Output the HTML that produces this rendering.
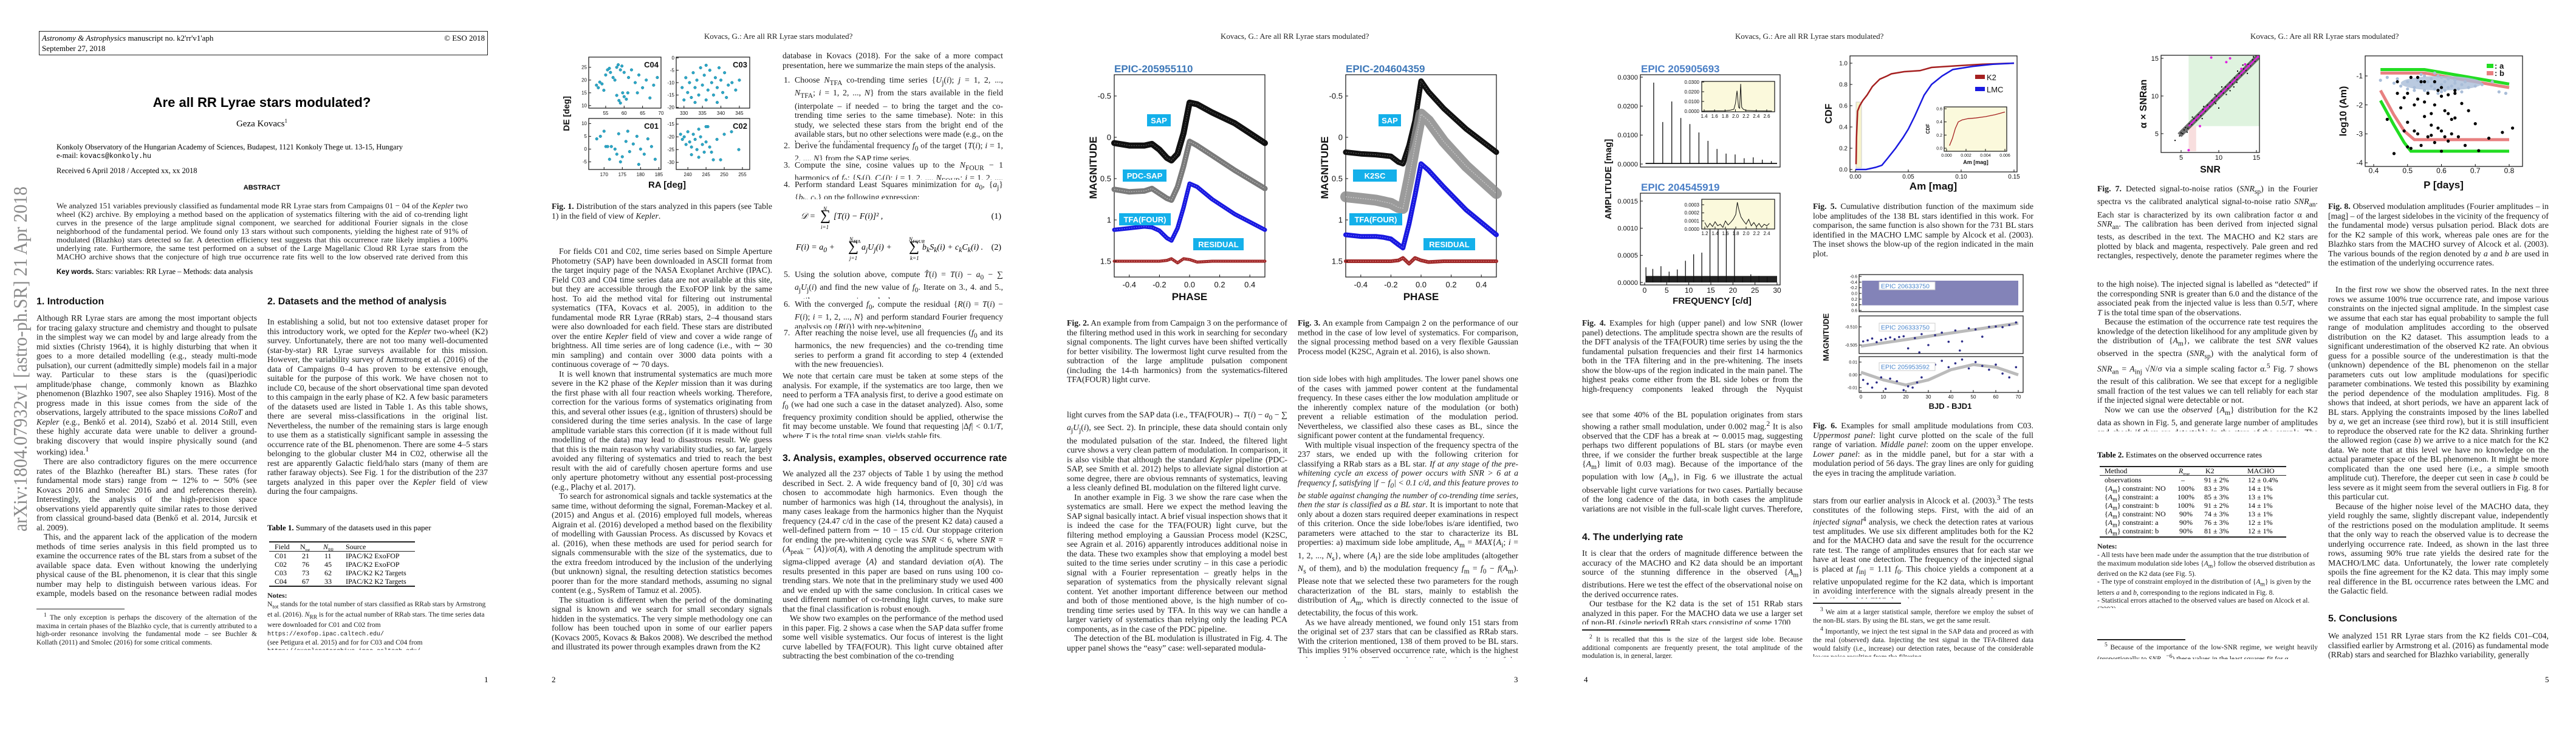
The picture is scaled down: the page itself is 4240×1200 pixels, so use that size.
<!DOCTYPE html>
<html lang="en"><head><meta charset="utf-8">
<style>
body{margin:0;width:4240px;height:1200px;background:#fff;position:relative;overflow:hidden}
.t{position:absolute;font-family:"Liberation Serif",serif;font-size:13.8px;line-height:15.5px;text-align:justify;color:#1a1a1a;overflow:hidden;width:363px;hyphens:auto}
.t p{margin:0;text-indent:12px}.t p.ni{text-indent:0}
.h{position:absolute;font:bold 16px "Liberation Sans",sans-serif;color:#111;white-space:nowrap}
.rh{position:absolute;top:52px;font:13px "Liberation Serif",serif;color:#222;white-space:nowrap}
.pn{position:absolute;top:1111px;font:13px "Liberation Serif",serif}
.fn{font-size:11.5px;line-height:13.8px}
.rule{position:absolute;height:1px;background:#222}
.cell{position:absolute;font:12px "Liberation Serif",serif;white-space:nowrap}
#figs{position:absolute;left:0;top:0}
#figs text{font-family:"Liberation Sans",sans-serif}
</style></head><body>

<!-- PAGE 1 -->
<div style="position:absolute;left:64px;top:51px;width:737px;height:38px;border:1px solid #222;font:13px 'Liberation Serif',serif;">
<div style="position:absolute;left:4px;top:3px"><i>Astronomy &amp; Astrophysics</i> manuscript no. k2'rr'v1'aph</div>
<div style="position:absolute;left:4px;top:20px">September 27, 2018</div>
<div style="position:absolute;right:4px;top:3px">© ESO 2018</div></div>
<div style="position:absolute;left:0;width:862px;top:156px;text-align:center;font:bold 22px 'Liberation Sans',sans-serif;">Are all RR Lyrae stars modulated?</div>
<div style="position:absolute;left:0;width:862px;top:194px;text-align:center;font:15px 'Liberation Serif',serif;">Geza Kovacs<sup style="font-size:9px">1</sup></div>
<div style="position:absolute;left:93px;top:235px;font:12.5px/14px 'Liberation Serif',serif;">Konkoly Observatory of the Hungarian Academy of Sciences, Budapest, 1121 Konkoly Thege ut. 13-15, Hungary<br>e-mail: <span style="font-family:'Liberation Mono',monospace;font-size:11.5px">kovacs@konkoly.hu</span></div>
<div style="position:absolute;left:93px;top:274px;font:12.5px 'Liberation Serif',serif;">Received 6 April 2018 / Accepted xx, xx 2018</div>
<div style="position:absolute;left:0;width:862px;top:303px;text-align:center;font:bold 11px 'Liberation Sans',sans-serif;">ABSTRACT</div>
<div class="t" style="left:93px;top:332px;width:677px;height:100px;font-size:13px;line-height:14px">We analyzed 151 variables previously classified as fundamental mode RR Lyrae stars from Campaigns 01 − 04 of the <i>Kepler</i> two wheel (K2) archive. By employing a method based on the application of systematics filtering with the aid of co-trending light curves in the presence of the large amplitude signal component, we searched for additional Fourier signals in the close neighborhood of the fundamental period. We found only 13 stars without such components, yielding the highest rate of 91% of modulated (Blazhko) stars detected so far. A detection efficiency test suggests that this occurrence rate likely implies a 100% underlying rate. Furthermore, the same test performed on a subset of the Large Magellanic Cloud RR Lyrae stars from the MACHO archive shows that the conjecture of high true occurrence rate fits well to the low observed rate derived from this database.</div>
<div style="position:absolute;left:93px;top:440px;font:12.5px 'Liberation Serif',serif;"><b style="font-family:'Liberation Sans',sans-serif;font-size:11.5px">Key words.</b> Stars: variables: RR Lyrae – Methods: data analysis</div>
<svg style="position:absolute;left:0;top:300px" width="56" height="580"><text x="0" y="0" transform="translate(44,575) rotate(-90)" font-family="Liberation Serif" font-size="32" fill="#8a8a8a" textLength="568" lengthAdjust="spacingAndGlyphs">arXiv:1804.07932v1  [astro-ph.SR]  21 Apr 2018</text></svg>
<div class="h" style="left:60px;top:488px">1. Introduction</div>
<div class="h" style="left:440px;top:488px">2. Datasets and the method of analysis</div>
<div class="t" style="left:60px;top:516px;height:468px"><p class="ni">Although RR Lyrae stars are among the most important objects for tracing galaxy structure and chemistry and thought to pulsate in the simplest way we can model by and large already from the mid sixties (Christy 1964), it is highly disturbing that when it goes to a more detailed modelling (e.g., steady multi-mode pulsation), our current (admittedly simple) models fail in a major way. Particular to these stars is the (quasi)periodic amplitude/phase change, commonly known as Blazhko phenomenon (Blazhko 1907, see also Shapley 1916). Most of the progress made in this issue comes from the side of the observations, largely attributed to the space missions <i>CoRoT</i> and <i>Kepler</i> (e.g., Benkő et al. 2014), Szabó et al. 2014 Still, even these highly accurate data were unable to deliver a ground-braking discovery that would inspire physically sound (and working) idea.<sup>1</sup></p><p>There are also contradictory figures on the mere occurrence rates of the Blazhko (hereafter BL) stars. These rates (for fundamental mode stars) range from ∼ 12% to ∼ 50% (see Kovacs 2016 and Smolec 2016 and and references therein). Interestingly, the analysis of the high-precision space observations yield apparently quite similar rates to those derived from classical ground-based data (Benkő et al. 2014, Jurcsik et al. 2009).</p><p>This, and the apparent lack of the application of the modern methods of time series analysis in this field prompted us to examine the occurrence rates of the BL stars from a subset of the available space data. Even without knowing the underlying physical cause of the BL phenomenon, it is clear that this single number may help to distinguish between various ideas. For example, models based on the resonance between radial modes will likely face difficulties if amplitude/phase modulation is indeed as common as the present study shows.</p></div>
<div class="rule" style="left:60px;top:1002px;width:145px"></div>
<div class="t fn" style="left:60px;top:1006px;height:72px"><p><sup>1</sup> The only exception is perhaps the discovery of the alternation of the maxima in certain phases of the Blazhko cycle, that is currently attributed to a high-order resonance involving the fundamental mode – see Buchler &amp; Kollath (2011) and Smolec (2016) for some critical comments.</p></div>
<div class="t" style="left:440px;top:522px;height:296px"><p class="ni">In establishing a solid, but not too extensive dataset proper for this introductory work, we opted for the <i>Kepler</i> two-wheel (K2) survey. Unfortunately, there are not too many well-documented (star-by-star) RR Lyrae surveys available for this mission. However, the variability survey of Armstrong et al. (2016) of the data of Campaigns 0–4 has proven to be extensive enough, suitable for the purpose of this work. We have chosen not to include C0, because of the short observational time span devoted to this campaign in the early phase of K2. A few basic parameters of the datasets used are listed in Table 1. As this table shows, there are several miss-classifications in the original list. Nevertheless, the number of the remaining stars is large enough to use them as a statistically significant sample in assessing the occurrence rate of the BL phenomenon. There are some 4–5 stars belonging to the globular cluster M4 in C02, otherwise all the rest are apparently Galactic field/halo stars (many of them are rather faraway objects). See Fig. 1 for the distribution of the 237 targets analyzed in this paper over the <i>Kepler</i> field of view during the four campaigns.</p></div>
<div style="position:absolute;left:440px;top:861px;font:13px 'Liberation Serif',serif"><b>Table 1.</b> Summary of the datasets used in this paper</div>
<div>
<div class="rule" style="left:443px;top:891px;width:240px;height:2px"></div>
<div class="cell" style="left:452px;top:893px">Field</div><div class="cell" style="left:494px;top:893px">N<sub style="font-size:7px">tot</sub></div><div class="cell" style="left:532px;top:893px"><i>N</i><sub style="font-size:7px">RR</sub></div><div class="cell" style="left:569px;top:893px">Source</div>
<div class="rule" style="left:443px;top:907px;width:240px"></div>
<div class="cell" style="left:452px;top:908px">C01</div><div class="cell" style="left:497px;top:908px">21</div><div class="cell" style="left:534px;top:908px">11</div><div class="cell" style="left:569px;top:908px">IPAC/K2 ExoFOP</div>
<div class="cell" style="left:452px;top:922px">C02</div><div class="cell" style="left:497px;top:922px">76</div><div class="cell" style="left:534px;top:922px">45</div><div class="cell" style="left:569px;top:922px">IPAC/K2 ExoFOP</div>
<div class="cell" style="left:452px;top:936px">C03</div><div class="cell" style="left:497px;top:936px">73</div><div class="cell" style="left:534px;top:936px">62</div><div class="cell" style="left:569px;top:936px">IPAC/K2 K2 Targets</div>
<div class="cell" style="left:452px;top:950px">C04</div><div class="cell" style="left:497px;top:950px">67</div><div class="cell" style="left:534px;top:950px">33</div><div class="cell" style="left:569px;top:950px">IPAC/K2 K2 Targets</div>
<div class="rule" style="left:443px;top:964px;width:240px;height:2px"></div></div>
<div class="t fn" style="left:440px;top:974px;height:96px;text-align:left"><b style="font-size:12px">Notes:</b><br>N<sub>tot</sub> stands for the total number of stars classified as RRab stars by Armstrong et al. (2016). <i>N</i><sub>RR</sub> is for the actual number of RRab stars. The time series data were downloaded for C01 and C02 from<br><span style="font-family:'Liberation Mono',monospace;font-size:10px">https://exofop.ipac.caltech.edu/</span><br>(see Petigura et al. 2015) and for for C03 and C04 from<br><span style="font-family:'Liberation Mono',monospace;font-size:10px">https://exoplanetarchive.ipac.caltech.edu/</span></div>
<div class="pn" style="left:797px">1</div>

<!-- PAGE 2 -->
<div class="rh" style="left:1159px">Kovacs, G.: Are all RR Lyrae stars modulated?</div>
<div class="t" style="left:908px;top:332px;height:32px"><p class="ni"><b>Fig. 1.</b> Distribution of the stars analyzed in this papers (see Table 1) in the field of view of <i>Kepler</i>.</p></div>
<div class="t" style="left:908px;top:406px;height:698px"><p>For fields C01 and C02, time series based on Simple Aperture Photometry (SAP) have been downloaded in ASCII format from the target inquiry page of the NASA Exoplanet Archive (IPAC). Field C03 and C04 time series data are not available at this site, but they are accessible through the ExoFOP link by the same host. To aid the method vital for filtering out instrumental systematics (TFA, Kovacs et al. 2005), in addition to the fundamental mode RR Lyrae (RRab) stars, 2–4 thousand stars were also downloaded for each field. These stars are distributed over the entire <i>Kepler</i> field of view and cover a wide range of brightness. All time series are of long cadence (i.e., with ∼ 30 min sampling) and contain over 3000 data points with a continuous coverage of ∼ 70 days.</p><p>It is well known that instrumental systematics are much more severe in the K2 phase of the <i>Kepler</i> mission than it was during the first phase with all four reaction wheels working. Therefore, correction for the various forms of systematics originating from this, and several other issues (e.g., ignition of thrusters) should be considered during the time series analysis. In the case of large amplitude variable stars this correction (if it is made without full modelling of the data) may lead to disastrous result. We guess that this is the main reason why variability studies, so far, largely avoided any filtering of systematics and tried to reach the best result with the aid of carefully chosen aperture forms and use only aperture photometry without any essential post-processing (e.g., Plachy et al. 2017).</p><p>To search for astronomical signals and tackle systematics at the same time, without deforming the signal, Foreman-Mackey et al. (2015) and Angus et al. (2016) employed full models, whereas Aigrain et al. (2016) developed a method based on the flexibility of modelling with Gaussian Process. As discussed by Kovacs et al. (2016), when these methods are used for period search for signals commensurable with the size of the systematics, due to the extra freedom introduced by the inclusion of the underlying (but unknown) signal, the resulting detection statistics becomes poorer than for the more standard methods, assuming no signal content (e.g., SysRem of Tamuz et al. 2005).</p><p>The situation is different when the period of the dominating signal is known and we search for small secondary signals hidden in the systematics. The very simple methodology one can follow has been touched upon in some of our earlier papers (Kovacs 2005, Kovacs &amp; Bakos 2008). We described the method and illustrated its power through examples drawn from the K2</p></div>
<div class="t" style="left:1288px;top:84px;height:32px"><p class="ni">database in Kovacs (2018). For the sake of a more compact presentation, here we summarize the main steps of the analysis.</p></div>
<div>
<div class="t" style="left:1288px;top:124px;height:110px;padding-left:20px;width:343px"><span style="position:absolute;left:2px">1.</span>Choose <i>N</i><sub>TFA</sub> co-trending time series {<i>U</i><sub>j</sub>(<i>i</i>); <i>j</i> = 1, 2, ..., <i>N</i><sub>TFA</sub>; <i>i</i> = 1, 2, ..., <i>N</i>} from the stars available in the field (interpolate – if needed – to bring the target and the co-trending time series to the same timebase). Note: in this study, we selected these stars from the bright end of the available stars, but no other selections were made (e.g., on the basis of variability).</div>
<div class="t" style="left:1288px;top:232px;height:32px;padding-left:20px;width:343px"><span style="position:absolute;left:2px">2.</span>Derive the fundamental frequency <i>f</i><sub>0</sub> of the target {<i>T</i>(<i>i</i>); <i>i</i> = 1, 2, ..., <i>N</i>} from the SAP time series.</div>
<div class="t" style="left:1288px;top:264px;height:32px;padding-left:20px;width:343px"><span style="position:absolute;left:2px">3.</span>Compute the sine, cosine values up to the <i>N</i><sub>FOUR</sub> − 1 harmonics of <i>f</i><sub>0</sub>: {<i>S</i><sub>j</sub>(<i>i</i>), <i>C</i><sub>j</sub>(<i>i</i>); <i>j</i> = 1, 2, ..., <i>N</i><sub>FOUR</sub>; <i>i</i> = 1, 2, ..., <i>N</i>}</div>
<div class="t" style="left:1288px;top:296px;height:32px;padding-left:20px;width:343px"><span style="position:absolute;left:2px">4.</span>Perform standard Least Squares minimization for <i>a</i><sub>0</sub>, {<i>a</i><sub>j</sub>} {<i>b</i><sub>k</sub>, <i>c</i><sub>k</sub>} on the following expression:</div></div>
<div style="position:absolute;left:1310px;top:336px;width:340px;height:44px;font:italic 14px 'Liberation Serif',serif">
<span style="position:absolute;left:8px;top:13px">𝒟 =</span><span style="position:absolute;left:45px;top:3px;font-size:9px">N</span><span style="position:absolute;left:40px;top:6px;font-size:24px;font-style:normal">∑</span><span style="position:absolute;left:41px;top:33px;font-size:9px">i=1</span><span style="position:absolute;left:62px;top:13px">[T(i) − F(i)]² ,</span><span style="position:absolute;right:2px;top:13px;font-style:normal">(1)</span></div>
<div style="position:absolute;left:1310px;top:387px;width:340px;height:44px;font:italic 14px 'Liberation Serif',serif">
<span style="position:absolute;left:0;top:13px">F(i) = a<sub>0</sub> +</span><span style="position:absolute;left:88px;top:2px;font-size:9px">N<sub>TFA</sub></span><span style="position:absolute;left:86px;top:6px;font-size:24px;font-style:normal">∑</span><span style="position:absolute;left:88px;top:33px;font-size:9px">j=1</span><span style="position:absolute;left:108px;top:13px">a<sub>j</sub>U<sub>j</sub>(i) +</span><span style="position:absolute;left:186px;top:2px;font-size:9px">N<sub>FOUR</sub></span><span style="position:absolute;left:186px;top:6px;font-size:24px;font-style:normal">∑</span><span style="position:absolute;left:188px;top:33px;font-size:9px">k=1</span><span style="position:absolute;left:208px;top:13px">b<sub>k</sub>S<sub>k</sub>(i) + c<sub>k</sub>C<sub>k</sub>(i) .</span><span style="position:absolute;right:2px;top:13px;font-style:normal">(2)</span></div>
<div>
<div class="t" style="left:1288px;top:444px;height:48px;padding-left:20px;width:343px"><span style="position:absolute;left:2px">5.</span>Using the solution above, compute <i>T̂</i>(<i>i</i>) = <i>T</i>(<i>i</i>) − <i>a</i><sub>0</sub> − ∑ <i>a</i><sub>j</sub><i>U</i><sub>j</sub>(<i>i</i>) and find the new value of <i>f</i><sub>0</sub>. Iterate on 3., 4. and 5., until convergence is reached.</div>
<div class="t" style="left:1288px;top:493px;height:48px;padding-left:20px;width:343px"><span style="position:absolute;left:2px">6.</span>With the converged <i>f</i><sub>0</sub>, compute the residual {<i>R</i>(<i>i</i>) = <i>T</i>(<i>i</i>) − <i>F</i>(<i>i</i>); <i>i</i> = 1, 2, ..., <i>N</i>} and perform standard Fourier frequency analysis on {<i>R</i>(<i>i</i>)} with pre-whitening.</div>
<div class="t" style="left:1288px;top:540px;height:64px;padding-left:20px;width:343px"><span style="position:absolute;left:2px">7.</span>After reaching the noise level, use all frequencies (<i>f</i><sub>0</sub> and its harmonics, the new frequencies) and the co-trending time series to perform a grand fit according to step 4 (extended with the new frequencies).</div></div>
<div class="t" style="left:1288px;top:611px;height:110px"><p class="ni">We note that certain care must be taken at some steps of the analysis. For example, if the systematics are too large, then we need to perform a TFA analysis first, to derive a good estimate on <i>f</i><sub>0</sub> (we had one such a case in the dataset analyzed). Also, some frequency proximity condition should be applied, otherwise the fit may become unstable. We found that requesting |Δ<i>f</i>| &lt; 0.1/<i>T</i>, where <i>T</i> is the total time span, yields stable fits.</p></div>
<div class="h" style="left:1288px;top:746px">3. Analysis, examples, observed occurrence rate</div>
<div class="t" style="left:1288px;top:772px;height:342px"><p class="ni">We analyzed all the 237 objects of Table 1 by using the method described in Sect. 2. A wide frequency band of [0, 30] c/d was chosen to accommodate high harmonics. Even though the number of harmonics was high (14, throughout the analysis), in many cases leakage from the harmonics higher than the Nyquist frequency (24.47 c/d in the case of the present K2 data) caused a well-defined pattern from ∼ 10 − 15 c/d. Our stoppage criterion for ending the pre-whitening cycle was <i>SNR</i> &lt; 6, where <i>SNR</i> = (<i>A</i><sub>peak</sub> − ⟨<i>A</i>⟩)/σ(<i>A</i>), with <i>A</i> denoting the amplitude spectrum with sigma-clipped average ⟨<i>A</i>⟩ and standard deviation σ(<i>A</i>). The results presented in this paper are based on runs using 100 co-trending stars. We note that in the preliminary study we used 400 and we ended up with the same conclusion. In critical cases we used different number of co-trending light curves, to make sure that the final classification is robust enough.</p><p>We show two examples on the performance of the method used in this paper. Fig. 2 shows a case when the SAP data suffer frome some well visible systematics. Our focus of interest is the light curve labelled by TFA(FOUR). This light curve obtained after subtracting the best combination of the co-trending</p></div>
<div class="pn" style="left:908px">2</div>

<!-- PAGE 3 -->
<div class="rh" style="left:2009px">Kovacs, G.: Are all RR Lyrae stars modulated?</div>
<div class="t" style="left:1756px;top:524px;height:110px"><p class="ni"><b>Fig. 2.</b> An example from from Campaign 3 on the performance of the filtering method used in this work in searching for secondary signal components. The light curves have been shifted vertically for better visibility. The lowermost light curve resulted from the subtraction of the large amplitude pulsation component (including the 14-th harmonics) from the systematics-filtered TFA(FOUR) light curve.</p></div>
<div class="t" style="left:1756px;top:675px;height:435px"><p class="ni">light curves from the SAP data (i.e., TFA(FOUR)→ <i>T</i>(<i>i</i>) − <i>a</i><sub>0</sub> − ∑ <i>a</i><sub>j</sub><i>U</i><sub>j</sub>(<i>i</i>), see Sect. 2). In principle, these data should contain only the modulated pulsation of the star. Indeed, the filtered light curve shows a very clean pattern of modulation. In comparison, it is also visible that although the standard <i>Kepler</i> pipeline (PDC-SAP, see Smith et al. 2012) helps to alleviate signal distortion at some degree, there are obvious remnants of systematics, leaving a less cleanly defined BL modulation on the filtered light curve.</p><p>In another example in Fig. 3 we show the rare case when the systematics are small. Here we expect the method leaving the SAP signal basically intact. A brief visual inspection shows that it is indeed the case for the TFA(FOUR) light curve, but the filtering method employing a Gaussian Process model (K2SC, see Agrain et al. 2016) apparently introduces additional noise in the data. These two examples show that employing a model best suited to the time series under scrutiny – in this case a periodic signal with a Fourier representation – greatly helps in the separation of systematics from the physically relevant signal content. Yet another important difference between our method and both of those mentioned above, is the high number of co-trending time series used by TFA. In this way we can handle a larger variety of systematics than relying only the leading PCA components, as in the case of the PDC pipeline.</p><p>The detection of the BL modulation is illustrated in Fig. 4. The upper panel shows the “easy” case: well-separated modula-</p></div>
<div class="t" style="left:2136px;top:524px;height:64px"><p class="ni"><b>Fig. 3.</b> An example from Campaign 2 on the performance of our method in the case of low level of systematics. For comparison, the signal processing method based on a very flexible Gaussian Process model (K2SC, Agrain et al. 2016), is also shown.</p></div>
<div class="t" style="left:2136px;top:616px;height:467px"><p class="ni">tion side lobes with high amplitudes. The lower panel shows one of the cases with jammed power content at the fundamental frequency. In these cases either the low modulation amplitude or the inherently complex nature of the modulation (or both) prevent a reliable estimation of the modulation period. Nevertheless, we classified also these cases as BL, since the significant power content at the fundamental frequency.</p><p>With multiple visual inspection of the frequency spectra of the 237 stars, we ended up with the following criterion for classifying a RRab stars as a BL star. <i>If at any stage of the pre-whitening cycle an excess of power occurs with SNR &gt; 6 at a frequency f, satisfying |f − f<sub>0</sub>| &lt; 0.1 c/d, and this feature proves to be stable against changing the number of co-trending time series, then the star is classified as a BL star</i>. It is important to note that only about a dozen stars required deeper examinations in respect of this criterion. Once the side lobe/lobes is/are identified, two parameters were attached to the star to characterize its BL properties: a) maximum side lobe amplitude, <i>A</i><sub>m</sub> = <i>MAX</i>{<i>A</i><sub>i</sub>; <i>i</i> = 1, 2, ..., <i>N</i><sub>s</sub>}, where {<i>A</i><sub>i</sub>} are the side lobe amplitudes (altogether <i>N</i><sub>s</sub> of them), and b) the modulation frequency <i>f</i><sub>m</sub> = <i>f</i><sub>0</sub> − <i>f</i>(<i>A</i><sub>m</sub>). Please note that we selected these two parameters for the rough characterization of the BL stars, mainly to establish the distribution of <i>A</i><sub>m</sub>, which is directly connected to the issue of detectability, the focus of this work.</p><p>As we have already mentioned, we found only 151 stars from the original set of 237 stars that can be classified as RRab stars. With the criterion mentioned, 138 of them proved to be BL stars. This implies 91% observed occurrence rate, which is the highest value reported so far. The cumulative distribution function of the observed maximum side lobe amplitudes is shown in Fig. 5. We</p></div>
<div class="pn" style="left:2492px">3</div>

<!-- PAGE 4 -->
<div class="rh" style="left:2856px">Kovacs, G.: Are all RR Lyrae stars modulated?</div>
<div class="t" style="left:2604px;top:524px;height:126px"><p class="ni"><b>Fig. 4.</b> Examples for high (upper panel) and low SNR (lower panel) detections. The amplitude spectra shown are the results of the DFT analysis of the TFA(FOUR) time series by using the the fundamental pulsation frequencies and their first 14 harmonics both in the TFA filtering and in the pre-whitening. The insets show the blow-ups of the region indicated in the main panel. The highest peaks come either from the BL side lobes or from the high-frequency components leaked through the Nyquist frequency at ∼ 24.47 c/d.</p></div>
<div class="t" style="left:2604px;top:675px;height:172px"><p class="ni">see that some 40% of the BL population originates from stars showing a rather small modulation, under 0.002 mag.<sup>2</sup> It is also observed that the CDF has a break at ∼ 0.0015 mag, suggesting perhaps two different populations of BL stars (or maybe even three, if we consider the further break suspectible at the large {<i>A</i><sub>m</sub>} limit of 0.03 mag). Because of the importance of the population with low {<i>A</i><sub>m</sub>}, in Fig. 6 we illustrate the actual observable light curve variations for two cases. Partially because of the long cadence of the data, in both cases the amplitude variations are not visible in the full-scale light curves. Therefore, we zoomed to the upper envelopes in the middle and lower panels.</p></div>
<div class="h" style="left:2604px;top:876px">4. The underlying rate</div>
<div class="t" style="left:2604px;top:903px;height:125px"><p class="ni">It is clear that the orders of magnitude difference between the accuracy of the MACHO and K2 data should be an important source of the stunning difference in the observed {<i>A</i><sub>m</sub>} distributions. Here we test the effect of the observational noise on the derived occurrence rates.</p><p>Our testbase for the K2 data is the set of 151 RRab stars analyzed in this paper. For the MACHO data we use a larger set of non-BL (single period) RRab stars consisting of some 1700</p></div>
<div class="rule" style="left:2604px;top:1036px;width:145px;height:2px"></div>
<div class="t fn" style="left:2604px;top:1042px;height:42px"><p><sup>2</sup> It is recalled that this is the size of the largest side lobe. Because additional components are frequently present, the total amplitude of the modulation is, in general, larger.</p></div>
<div class="t" style="left:2984px;top:332px;height:95px"><p class="ni"><b>Fig. 5.</b> Cumulative distribution function of the maximum side lobe amplitudes of the 138 BL stars identified in this work. For comparison, the same function is also shown for the 731 BL stars identified in the MACHO LMC sample by Alcock et al. (2003). The inset shows the blow-up of the region indicated in the main plot.</p></div>
<div class="t" style="left:2984px;top:693px;height:95px"><p class="ni"><b>Fig. 6.</b> Examples for small amplitude modulations from C03. <i>Uppermost panel</i>: light curve plotted on the scale of the full range of variation. <i>Middle panel</i>: zoom on the upper envelope. <i>Lower panel</i>: as in the middle panel, but for a star with a modulation period of 56 days. The gray lines are only for guiding the eyes in tracing the amplitude variation.</p></div>
<div class="t" style="left:2984px;top:813px;height:172px"><p class="ni">stars from our earlier analysis in Alcock et al. (2003).<sup>3</sup> The tests constitutes of the following steps. First, with the aid of an <i>injected signal</i><sup>4</sup> analysis, we check the detection rates at various test amplitudes. We use six different amplitudes both for the K2 and for the MACHO data and save the result for the occurrence rate test. The range of amplitudes ensures that for each star we have at least one detection. The frequency of the injected signal is placed at <i>f</i><sub>inj</sub> = 1.11 <i>f</i><sub>0</sub>. This choice yields a component at a relative unpopulated regime for the K2 data, which is important in avoiding interference with the signals already present in the data (for the MACHO data this is less of a problem, due</p></div>
<div class="rule" style="left:2984px;top:992px;width:145px;height:2px"></div>
<div class="t fn" style="left:2984px;top:997px;height:84px"><p><sup>3</sup> We aim at a larger statistical sample, therefore we employ the subset of the non-BL stars. By using the BL stars, we get the same result.</p><p><sup>4</sup> Importantly, we inject the test signal in the SAP data and proceed as with the real (observed) data. Injecting the test signal in the TFA-filtered data would falsify (i.e., increase) our detection rates, because of the considerable lower noise resulting from the filtering.</p></div>
<div class="pn" style="left:2607px">4</div>

<!-- PAGE 5 -->
<div class="rh" style="left:3704px">Kovacs, G.: Are all RR Lyrae stars modulated?</div>
<div class="t" style="left:3452px;top:303px;height:126px"><p class="ni"><b>Fig. 7.</b> Detected signal-to-noise ratios (<i>SNR</i><sub>sp</sub>) in the Fourier spectra vs the calibrated analytical signal-to-noise ratio <i>SNR</i><sub>an</sub>. Each star is characterized by its own calibration factor α and <i>SNR</i><sub>an</sub>. The calibration has been derived from injected signal tests, as described in the text. The MACHO and K2 stars are plotted by black and magenta, respectively. Pale green and red rectangles, respectively, denote the parameter regimes where the two SNR estimates yield consistent/inconsistent detection result.</p></div>
<div class="t" style="left:3452px;top:460px;height:250px"><p class="ni">to the high noise). The injected signal is labelled as “detected” if the corresponding SNR is greater than 6.0 and the distance of the associated peak from the injected value is less than 0.5/<i>T</i>, where <i>T</i> is the total time span of the observations.</p><p>Because the estimation of the occurrence rate test requires the knowledge of the detection likelihood for any amplitude given by the distribution of {<i>A</i><sub>m</sub>}, we calibrate the test <i>SNR</i> values observed in the spectra (<i>SNR</i><sub>sp</sub>) with the analytical form of <i>SNR</i><sub>an</sub> = <i>A</i><sub>inj</sub> √<i>N</i>/σ via a simple scaling factor α.<sup>5</sup> Fig. 7 shows the result of this calibration. We see that except for a negligible small fraction of the test values we can tell reliably for each star if the injected signal were detectable or not.</p><p>Now we can use the <i>observed</i> {<i>A</i><sub>m</sub>} distribution for the K2 data as shown in Fig. 5, and generate large number of amplitudes and check if they are detectable in the stars of the sample. The results are summarized in Table 2.</p></div>
<div style="position:absolute;left:3452px;top:741px;font:13px 'Liberation Serif',serif"><b>Table 2.</b> Estimates on the observed occurrence rates</div>
<div>
<div class="rule" style="left:3456px;top:767px;width:307px;height:2px"></div>
<div class="cell" style="left:3464px;top:768px">Method</div><div class="cell" style="left:3586px;top:768px"><i>R</i><sub style="font-size:7px">true</sub></div><div class="cell" style="left:3630px;top:768px">K2</div><div class="cell" style="left:3699px;top:768px">MACHO</div>
<div class="rule" style="left:3456px;top:782px;width:307px"></div>
<div class="cell" style="left:3464px;top:783px">observations</div><div class="cell" style="left:3590px;top:783px">–</div><div class="cell" style="left:3628px;top:783px">91 ± 2%</div><div class="cell" style="left:3700px;top:783px">12 ± 0.4%</div>
<div class="cell" style="left:3464px;top:797px">{<i>A</i><sub>m</sub>} constraint: NO</div><div class="cell" style="left:3584px;top:797px">100%</div><div class="cell" style="left:3628px;top:797px">83 ± 3%</div><div class="cell" style="left:3700px;top:797px">14 ± 1%</div>
<div class="cell" style="left:3464px;top:811px">{<i>A</i><sub>m</sub>} constraint: a</div><div class="cell" style="left:3584px;top:811px">100%</div><div class="cell" style="left:3628px;top:811px">85 ± 3%</div><div class="cell" style="left:3700px;top:811px">13 ± 1%</div>
<div class="cell" style="left:3464px;top:825px">{<i>A</i><sub>m</sub>} constraint: b</div><div class="cell" style="left:3584px;top:825px">100%</div><div class="cell" style="left:3628px;top:825px">91 ± 2%</div><div class="cell" style="left:3700px;top:825px">14 ± 1%</div>
<div class="cell" style="left:3464px;top:839px">{<i>A</i><sub>m</sub>} constraint: NO</div><div class="cell" style="left:3587px;top:839px">90%</div><div class="cell" style="left:3628px;top:839px">74 ± 3%</div><div class="cell" style="left:3700px;top:839px">13 ± 1%</div>
<div class="cell" style="left:3464px;top:853px">{<i>A</i><sub>m</sub>} constraint: a</div><div class="cell" style="left:3587px;top:853px">90%</div><div class="cell" style="left:3628px;top:853px">76 ± 3%</div><div class="cell" style="left:3700px;top:853px">12 ± 1%</div>
<div class="cell" style="left:3464px;top:867px">{<i>A</i><sub>m</sub>} constraint: b</div><div class="cell" style="left:3587px;top:867px">90%</div><div class="cell" style="left:3628px;top:867px">81 ± 3%</div><div class="cell" style="left:3700px;top:867px">12 ± 1%</div>
<div class="rule" style="left:3456px;top:883px;width:307px;height:2px"></div></div>
<div class="t fn" style="left:3452px;top:893px;height:108px;text-align:left"><b style="font-size:12px">Notes:</b><br>- All tests have been made under the assumption that the true distribution of the maximum modulation side lobes {<i>A</i><sub>m</sub>} follow the observed distribution as derived on the K2 data (see Fig. 5).<br>- The type of constraint employed in the distribution of {<i>A</i><sub>m</sub>} is given by the letters <i>a</i> and <i>b</i>, corresponding to the regions indicated in Fig. 8.<br>- Statistical errors attached to the observed values are based on Alcock et al. (2003).</div>
<div class="rule" style="left:3452px;top:1052px;width:145px;height:2px"></div>
<div class="t fn" style="left:3452px;top:1055px;height:30px"><p><sup>5</sup> Because of the importance of the low-SNR regime, we weight heavily (proportionally to <i>SNR</i><sub>sp</sub><sup>−6</sup>) these values in the least squares fit for α.</p></div>
<div class="t" style="left:3832px;top:332px;height:110px"><p class="ni"><b>Fig. 8.</b> Observed modulation amplitudes (Fourier amplitudes – in [mag] – of the largest sidelobes in the vicinity of the frequency of the fundamental mode) versus pulsation period. Black dots are for the K2 sample of this work, whereas pale ones are for the Blazhko stars from the MACHO survey of Alcock et al. (2003). The various bounds of the region denoted by <i>a</i> and <i>b</i> are used in the estimation of the underlying occurrence rates.</p></div>
<div class="t" style="left:3832px;top:469px;height:514px"><p>In the first row we show the observed rates. In the next three rows we assume 100% true occurrence rate, and impose various constraints on the injected signal amplitude. In the simplest case we assume that each star has equal probability to sample the full range of modulation amplitudes according to the observed distribution on the K2 dataset. This assumption leads to a significant underestimation of the observed K2 rate. An obvious guess for a possible source of the underestimation is that the (unknown) dependence of the BL phenomenon on the stellar parameters cuts out low amplitude modulations for specific parameter combinations. We tested this possibility by examining the period dependence of the modulation amplitudes. Fig. 8 shows that indeed, at short periods, we have an apparent lack of BL stars. Applying the constraints imposed by the lines labelled by <i>a</i>, we get an increase (see third row), but it is still insufficient to reproduce the observed rate for the K2 data. Shrinking further the allowed region (case <i>b</i>) we arrive to a nice match for the K2 data. We note that at this level we have no knowledge on the actual parameter space of the BL phenomenon. It might be more complicated than the one used here (i.e., a simple smooth amplitude cut). Therefore, the deeper cut seen in case <i>b</i> could be less severe as it might seem from the several outliers in Fig. 8 for this particular cut.</p><p>Because of the higher noise level of the MACHO data, they yield roughly the same, slightly discrepant value, independently of the restrictions posed on the modulation amplitude. It seems that the only way to reach the observed value is to decrease the underlying occurrence rate. Indeed, as shown in the last three rows, assuming 90% true rate yields the desired rate for the MACHO/LMC data. Unfortunately, the lower rate completely spoils the fine agreement for the K2 data. This may imply some real difference in the BL occurrence rates between the LMC and the Galactic field.</p></div>
<div class="h" style="left:3832px;top:1010px">5. Conclusions</div>
<div class="t" style="left:3832px;top:1039px;height:47px"><p class="ni">We analyzed 151 RR Lyrae stars from the K2 fields C01–C04, classified earlier by Armstrong et al. (2016) as fundamental mode (RRab) stars and searched for Blazhko variability, generally</p></div>
<div class="pn" style="left:4189px">5</div>

<svg id="figs" width="4240" height="1200" xmlns="http://www.w3.org/2000/svg"></svg>

<script>
// ---------- Fig.1 data (RA, DE per campaign) ----------
const c04RA=[52.5,53,53.4,54,54.5,55,55.5,56,56.3,57,57.5,58,58.4,59,59.4,60,58,58.6,59,59.6,60,60.6,61,61.2,62,63,63.6,64,65,66,67,68,69];
const c04DE=[18,17,19.2,18.5,16,22,24,24.6,23,21,20,25,26,24,25.5,23,14,12,11,15,13.5,12.5,15,21,24,19,15,22,17,20,13,18,21];
const c03RA=[329.5,330.5,331,331.5,332,332.5,333,333.5,334,334.5,335,335.5,336,336.5,337,337.5,338,338.5,339,339.5,340,340.5,341,341.5,342,343,344,345,330,333,336,339];
const c03DE=[-12,-8,-14,-10,-16,-6,-12,-9,-15,-4,-11,-7,-17,-13,-5,-10,-15,-8,-12,-4,-9,-14,-6,-16,-11,-10,-13,-9,-17,-18,-3,-18];
const c01RA=[168,169,170,170.5,171,171.5,172,173,173.5,174,174.5,175,176,177,178,179,180,181,182,183,184,176.5,179.5];
const c01DE=[4,5,7,1,1,-4,1,0,-2,6,-5,-3,3,-1,2,5,0,-2,4,1,-4,7,-6];
const c02RA=[238,238.5,239,239.5,240,240.5,241,241.5,242,242.5,243,243.5,244,244.5,245,245.5,246,246.5,247,248,249,250,252,254,241,243,245];
const c02DE=[-19,-21,-20,-23,-18,-22,-24,-19,-21,-25,-17,-20,-23,-26,-22,-16,-24,-26,-29,-21,-29,-19,-18,-25,-27,-28,-16];
const fig1Ticks={c04x:[55,60,65,70],c04y:[10,15,20,25],c03x:[330,335,340,345],c03y:[0,-5,-10,-15,-20],c01x:[170,175,180,185],c01y:[-5,0,5,10],c02x:[240,245,250,255],c02y:[-15,-20,-25,-30]};
// ---------- Fig.2 / Fig.3 light curves ----------
const lcPhase=[-0.5,-0.4,-0.3,-0.25,-0.2,-0.15,-0.12,-0.08,-0.04,0,0.05,0.15,0.3,0.5];
const f2Sap=[0.07,0.1,0.1,0.08,0.15,0.25,0.28,0.2,-0.05,-0.42,-0.4,-0.3,-0.17,0.07];
const f2Pdc=[0.63,0.66,0.65,0.62,0.68,0.74,0.76,0.6,0.35,0.05,0.1,0.22,0.4,0.62];
const f2Tfa=[1.12,1.1,1.08,1.09,1.13,1.22,1.25,1.1,0.85,0.56,0.6,0.75,0.93,1.12];
const f2Res=[1.5,1.5,1.5,1.5,1.5,1.49,1.47,1.52,1.47,1.48,1.51,1.5,1.5,1.5];
const f3Sap=[0.18,0.2,0.21,0.22,0.23,0.3,0.32,0.1,-0.2,-0.68,-0.55,-0.35,-0.1,0.18];
const f3K2sc=[0.72,0.74,0.76,0.78,0.8,0.85,0.86,0.5,0.1,-0.28,-0.2,0.05,0.35,0.68];
const f3Tfa=[1.18,1.2,1.2,1.21,1.23,1.3,1.34,1.05,0.7,0.32,0.4,0.6,0.88,1.18];
const f3Res=[1.5,1.5,1.5,1.5,1.5,1.49,1.46,1.53,1.46,1.49,1.51,1.5,1.5,1.5];
const magTicks=[-0.5,0,0.5,1,1.5];const magTickLabels=["-0.5","0","0.5","1","1.5"];
const phaseTicks=[-0.4,-0.2,0,0.2,0.4];const phaseTickLabels=["-0.4","-0.2","0.0","0.2","0.4"];
// ---------- Fig.4 spectra ----------
const f4UpFreq=[2.05,4.1,6.15,8.2,10.25,12.3,14.35,16.4,18.45,20.5,22.55,24.6,26.65,28.7];
const f4UpAmp=[0.0281,0.0145,0.0216,0.0159,0.0138,0.0109,0.0080,0.0052,0.0036,0.0033,0.0020,0.0023,0.0015,0.0010];
const f4InFreq=[1.4,1.8,1.9,1.97,2.0,2.03,2.06,2.08,2.1,2.12,2.15,2.2,2.4,2.7];
const f4InAmp=[0.0002,0.0004,0.001,0.002,0.008,0.021,0.004,0.003,0.028,0.004,0.002,0.0008,0.0003,0.0002];
const f4LoFreq=[0.3,1.85,3.7,5.55,7.4,9.25,11.1,12.95,14.8,16.65,18.5,20.35,22.2,24.05,25.9,27.75];
const f4LoAmp=[0.00028,0.00025,0.0003,0.0002,0.00024,0.0004,0.00052,0.00055,0.0011,0.0011,0.0011,0.0011,0.0001,0.00015,0.00012,0.0001];
const f4LiFreq=[1.2,1.25,1.3,1.35,1.4,1.45,1.5,1.55,1.6,1.65,1.7,1.75,1.8,1.83,1.86,1.9,1.95,2.0,2.05,2.1,2.15,2.2,2.25,2.3,2.35,2.4,2.45];
const f4LiAmp=[0.00008,0.00002,0.00007,0.00003,0.00009,0.00004,0.00006,0.00002,0.0001,0.00005,0.00008,0.00012,0.00018,0.00033,0.00024,0.00015,0.0001,0.00006,0.00012,0.00004,0.00008,0.00003,0.00007,0.00002,0.00006,0.00004,0.00007];
const f4UpTicks=[0,0.01,0.02,0.03];const f4UpLabels=["0.0000","0.0100","0.0200","0.0300"];
const f4LoTicks=[0,0.0005,0.001,0.0015];const f4LoLabels=["0.0000","0.0005","0.0010","0.0015"];
const freqTicks=[0,5,10,15,20,25,30];
// ---------- Fig.5 CDF ----------
const k2Am=[0.0006,0.001,0.002,0.004,0.007,0.011,0.016,0.023,0.03,0.034,0.046,0.061,0.072,0.095,0.12,0.15];
const k2Cdf=[0.05,0.3,0.55,0.6,0.65,0.7,0.78,0.85,0.88,0.9,0.92,0.93,0.96,0.975,0.99,1.0];
const lmcAm=[0.0,0.01,0.019,0.025,0.03,0.038,0.045,0.05,0.056,0.065,0.072,0.082,0.092,0.111,0.13,0.15];
const lmcCdf=[0.0,0.0,0.02,0.04,0.1,0.2,0.3,0.38,0.5,0.7,0.8,0.88,0.94,0.97,0.99,1.0];
const k2InAm=[0.0003,0.0006,0.0009,0.0012,0.0016,0.0022,0.003,0.004,0.005,0.006];
const k2InCdf=[0.04,0.15,0.3,0.4,0.43,0.45,0.46,0.48,0.51,0.55];
const cdfTicks=[0,0.2,0.4,0.6,0.8,1.0];const amTicks=[0,0.05,0.1,0.15];const amTickLabels=["0.00","0.05","0.10","0.15"];
// ---------- Fig.6 light curves ----------
const f6MidT=[1,3,5,7,9,11,13,15,17,19,21,24,27,30,33,36,39,42,45,48,51,54,57,60,63,66,69,26,44];
const f6MidM=[-0.5060,-0.5063,-0.5068,-0.5058,-0.5064,-0.5067,-0.5071,-0.5066,-0.5072,-0.5074,-0.5041,-0.5069,-0.5080,-0.5050,-0.5077,-0.5084,-0.5059,-0.5090,-0.5060,-0.5096,-0.5093,-0.5073,-0.5100,-0.5101,-0.5099,-0.5105,-0.5112,-0.5030,-0.5035];
const f6LoT=[1,3,5,7,9,11,13,16,19,21,23,25,27,30,33,36,39,42,45,48,51,54,57,60,63,66,69];
const f6LoM=[-0.004,-0.007,-0.01,-0.006,-0.002,-0.011,-0.003,-0.005,-0.012,-0.009,-0.01,-0.006,-0.002,0.004,0.008,0.011,0.006,0.009,0.012,0.005,0.010,0.007,0.004,0.008,0.001,-0.002,0.006];
const f6TrendT=[0,10,20,30,40,50,60,70];
const f6TrendM=[0.002,-0.004,-0.008,-0.004,0.004,0.008,0.006,0.0];
const f6TopTicks=[-0.6,-0.4,-0.2,0,0.2,0.4,0.6];const bjdTicks=[0,10,20,30,40,50,60,70];
// ---------- Fig.7 SNR scatter ----------
const f7Sp=[4.8,5.0,5.2,5.4,5.6,5.9,6.1,6.4,6.7,7.0,7.3,7.6,7.9,8.2,8.5,8.8,9.1,9.4,9.7,10.0,10.3,10.6,10.9,11.2,11.5,11.8,12.1,12.4,12.7,13.0,13.3,13.6,13.9,14.2,14.5,14.8,15.1,6.5,7.8,9.5,11.0,12.5,13.8,14.6,8.0,10.4,12.0,13.2,4.2,5.8,9.6,12.4,10.0,11.5];
const f7An=[4.7,5.1,5.0,5.5,5.8,5.7,6.3,6.2,7.0,6.8,7.5,7.4,8.2,8.0,8.8,8.6,9.4,9.2,10.0,9.8,10.6,10.4,11.2,11.0,11.8,11.6,12.4,12.2,13.0,12.8,13.6,13.4,14.2,14.0,14.8,14.6,15.2,7.2,7.0,10.2,10.2,13.3,13.0,15.2,8.6,11.2,11.2,14.1,4.1,5.2,9.0,11.8,8.4,10.7];
const f7MagSp=[6.0,9.0,11.0,11.5,13.0,13.5,7.5,8.2,14.0,15.2];
const f7MagAn=[2.8,15.1,14.5,15.0,13.6,14.2,6.0,8.3,14.0,15.2];
const f7LineSp=[6,15.2];const f7LineAn=[6,15.2];
const snrTicks=[5,10,15];
// ---------- Fig.8 amplitudes vs period ----------
const f8P=[0.44,0.46,0.47,0.48,0.49,0.5,0.5,0.51,0.52,0.52,0.53,0.53,0.54,0.54,0.55,0.55,0.56,0.56,0.57,0.57,0.58,0.58,0.59,0.59,0.6,0.6,0.6,0.61,0.61,0.62,0.62,0.63,0.63,0.64,0.64,0.65,0.66,0.67,0.68,0.7,0.71,0.74,0.78,0.81,0.47,0.5,0.55,0.58,0.6,0.62,0.53,0.57,0.64,0.51,0.49];
const f8L=[-2.5,-3.68,-1.2,-2.1,-2.9,-3.45,-1.6,-1.05,-2.0,-2.9,-1.8,-3.0,-1.2,-3.4,-1.9,-2.4,-1.6,-3.1,-2.3,-3.05,-1.2,-3.3,-1.5,-2.8,-1.7,-2.9,-3.6,-2.2,-3.1,-1.65,-3.25,-2.5,-3.0,-1.6,-2.45,-3.1,-1.95,-3.4,-2.2,-2.65,-3.58,-3.15,-2.95,-2.8,-1.6,-2.6,-1.2,-2.0,-1.4,-2.3,-1.05,-2.7,-1.5,-3.5,-1.75];
const f8CloudP=[0.42,0.44,0.46,0.47,0.48,0.5,0.51,0.52,0.53,0.54,0.55,0.55,0.56,0.57,0.57,0.58,0.58,0.59,0.6,0.6,0.61,0.62,0.62,0.63,0.64,0.65,0.66,0.67,0.68,0.7,0.72,0.75,0.77,0.79,0.52,0.56,0.59,0.61,0.54,0.5,0.64,0.6,0.58,0.66];
const f8CloudL=[-1.15,-1.05,-1.25,-1.1,-1.35,-1.2,-1.05,-1.4,-1.15,-1.3,-1.0,-1.5,-1.2,-1.35,-1.1,-1.45,-1.25,-1.0,-1.3,-1.55,-1.2,-1.4,-1.1,-1.35,-1.25,-1.45,-1.3,-1.2,-1.4,-1.35,-1.3,-1.2,-1.55,-1.6,-1.5,-1.55,-1.6,-1.5,-0.95,-1.45,-1.15,-1.05,-0.9,-1.55];
const f8aUpP=[0.42,0.55,0.8];const f8aUpL=[-0.78,-0.78,-1.28];
const f8bUpP=[0.42,0.55,0.8];const f8bUpL=[-0.9,-0.9,-1.4];
const f8aLoP=[0.42,0.46,0.49,0.51,0.8];const f8aLoL=[-1.85,-2.7,-3.3,-3.6,-3.6];
const f8bLoP=[0.42,0.46,0.49,0.52,0.8];const f8bLoL=[-1.5,-2.35,-2.9,-3.2,-3.2];
const f8PTicks=[0.4,0.5,0.6,0.7,0.8];const f8LTicks=[-1,-2,-3,-4];

const NS='http://www.w3.org/2000/svg';
const svg=document.getElementById('figs');
function mk(tag,attrs,parent){const e=document.createElementNS(NS,tag);for(const k in attrs)e.setAttribute(k,attrs[k]);(parent||svg).appendChild(e);return e;}
function sc(d0,d1,r0,r1){return v=>r0+(v-d0)*(r1-r0)/(d1-d0);}
function txt(x,y,s,size,anchor,extra){const e=mk('text',Object.assign({x:x,y:y,'font-size':size,'text-anchor':anchor||'middle',fill:'#111'},extra||{}));e.textContent=s;return e;}
function frame(x0,y0,x1,y1,name,fill){const r=mk('rect',{x:x0,y:y0,width:x1-x0,height:y1-y0,fill:fill||'none',stroke:'#111','stroke-width':1.2});


return r;}
function xticks(sx,ticks,labels,y0,y1,ly,size,name){ticks.forEach((v,i)=>{const l=mk('line',{x1:sx(v),x2:sx(v),y1:y1,y2:y1-4,stroke:'#111'});


const t=txt(sx(v),ly,labels?labels[i]:String(v),size);

});}
function yticks(sy,ticks,labels,x0,lx,size,name){ticks.forEach((v,i)=>{const l=mk('line',{x1:x0,x2:x0+4,y1:sy(v),y2:sy(v),stroke:'#111'});


const t=txt(lx,sy(v)+size*0.35,labels?labels[i]:String(v),size,'end');

});}
function pts(xs,ys,sx,sy){return xs.map((x,i)=>sx(x).toFixed(1)+','+sy(ys[i]).toFixed(1)).join(' ');}
function rotLabel(x,y,s,size,name){const t=txt(x,y,s,size,'middle',{'font-weight':'bold',transform:'rotate(-90 '+x+' '+y+')'});

}

// ===== Fig 1 =====
const f1Panels=[
 {n:'c04',lab:'C04',ra:c04RA,de:c04DE,x:[969,1088],y:[94,178],dx:[50.4,70],dy:[29,9]},
 {n:'c03',lab:'C03',ra:c03RA,de:c03DE,x:[1113,1234],y:[94,178],dx:[327.9,347.8],dy:[0.3,-20.3]},
 {n:'c01',lab:'C01',ra:c01RA,de:c01DE,x:[969,1088],y:[195,279],dx:[165.8,185.6],dy:[12,-8]},
 {n:'c02',lab:'C02',ra:c02RA,de:c02DE,x:[1113,1234],y:[195,279],dx:[236.8,257],dy:[-12.8,-32.8]}];
f1Panels.forEach(p=>{const sx=sc(p.dx[0],p.dx[1],p.x[0],p.x[1]),sy=sc(p.dy[0],p.dy[1],p.y[0],p.y[1]);
 frame(p.x[0],p.y[0],p.x[1],p.y[1],'fig1-panel-'+p.n);
 xticks(sx,fig1Ticks[p.n+'x'],null,p.y[0],p.y[1],p.y[1]+11,8,'fig1-'+p.n+'-x');
 yticks(sy,fig1Ticks[p.n+'y'],null,p.x[0],p.x[0]-3,8,'fig1-'+p.n+'-y');
 const lb=txt(p.x[1]-4,p.y[0]+17,p.lab,13,'end',{'font-weight':'bold'});
 
 
 p.ra.forEach((r,i)=>{const c=mk('circle',{cx:sx(r),cy:sy(p.de[i]),r:2.3,fill:'#2aa8c8',stroke:'#1a7a96','stroke-width':0.5});
 
 });});
rotLabel(937,187,'DE [deg]',14,'fig1-y-axis-title');
{const t=txt(1098,309,'RA [deg]',15,'middle',{'font-weight':'bold'});

}

// ===== Fig 2 & 3 =====
function lightFig(x0,x1,title,series,boxes,n){
 const sx=sc(-0.5,0.5,x0,x1),sy=sc(0,1,226,362);
 frame(x0,123,x1,456,n+'-frame');
 series.forEach(s=>{const pl=mk('polyline',{points:pts(lcPhase,s.d,sx,sy),fill:'none',stroke:s.c,'stroke-width':s.w,'stroke-linejoin':'round','stroke-linecap':'round','stroke-opacity':s.o||1});
 
 
 const core=mk('polyline',{points:pts(lcPhase,s.d,sx,sy),fill:'none',stroke:s.k,'stroke-width':1.2,'stroke-dasharray':'2 2'});
 
 });
 yticks(sy,magTicks,magTickLabels,x0,x0-5,13,n+'-y');
 xticks(sx,phaseTicks,phaseTickLabels,123,456,473,13,n+'-x');
 const tt=txt(x0,119,title,17,'start',{'font-weight':'bold',fill:'#3e78b8'});
 
 
 rotLabel(x0-29,276,'MAGNITUDE',17,n+'-y-axis-title');
 const xt=txt((x0+x1)/2,494,'PHASE',17,'middle',{'font-weight':'bold'});
 
 
 boxes.forEach(b=>{const r=mk('rect',{x:b[1],y:b[2],width:b[3]-b[1],height:20,fill:'#14b0ea'});
 
 
 const t=txt((b[1]+b[3])/2,b[2]+15,b[0],13,'middle',{fill:'#fff','font-weight':'bold'});
 
 });}
lightFig(1834,2082,'EPIC-205955110',[
 {n:'sap',d:f2Sap,c:'#111',w:10,k:'#555'},{n:'pdc-sap',d:f2Pdc,c:'#7a7a7a',w:9,k:'#bbb'},
 {n:'tfa',d:f2Tfa,c:'#1818e0',w:7,k:'#6f6ff5'},{n:'residual',d:f2Res,c:'#a02a2a',w:5,k:'#d07070'}],
 [['SAP',1888,188,1927],['PDC-SAP',1848,279,1920],['TFA(FOUR)',1842,351,1927],['RESIDUAL',1964,392,2047]],'fig2');
lightFig(2215,2463,'EPIC-204604359',[
 {n:'sap',d:f3Sap,c:'#111',w:9,k:'#555'},{n:'k2sc',d:f3K2sc,c:'#8a8a8a',w:18,k:'#ccc',o:0.85},
 {n:'tfa',d:f3Tfa,c:'#1818e0',w:8,k:'#6f6ff5'},{n:'residual',d:f3Res,c:'#a02a2a',w:6,k:'#d07070'}],
 [['SAP',2269,188,2306],['K2SC',2227,279,2299],['TFA(FOUR)',2221,351,2308],['RESIDUAL',2343,392,2428]],'fig3');

// ===== Fig 4 =====
{const sx=sc(0,30,2707,2925);
 const syU=sc(0,0.03,270,127),syL=sc(0,0.0015,465,331);
 [[123,275,syU,f4UpFreq,f4UpAmp,f4UpTicks,f4UpLabels,'fig4-upper',0.0004,'EPIC 205905693',119],
  [318,469,syL,f4LoFreq,f4LoAmp,f4LoTicks,f4LoLabels,'fig4-lower',0.00012,'EPIC 204545919',314]].forEach(c=>{
  frame(2700,c[0],2930,c[1],c[7]+'-frame');
  const nb=mk('rect',{x:sx(0.2),y:c[2](c[8]),width:sx(30)-sx(0.2),height:c[2](0)-c[2](c[8]),fill:'#222'});
  
  
  c[3].forEach((f,i)=>{const l=mk('line',{x1:sx(f),x2:sx(f),y1:c[2](0),y2:c[2](c[4][i]),stroke:'#111','stroke-width':1.3});
  
  });
  yticks(c[2],c[5],c[6],2700,2696,11,c[7]+'-y');
  const tt=txt(2701,c[10],c[9],17,'start',{'font-weight':'bold',fill:'#4a7fc6'});
  
  });
 xticks(sx,freqTicks,null,318,469,482,12,'fig4-x');
 rotLabel(2652,295,'AMPLITUDE [mag]',15,'fig4-y-axis-title');
 {const t=txt(2818,500,'FREQUENCY [c/d]',15,'middle',{'font-weight':'bold'});
 
 }
 [[134,184,f4InFreq,f4InAmp,sc(1.4,2.6,2805,2908),sc(0,0.03,183,135),[1.4,1.6,1.8,2.0,2.2,2.4,2.6],[0,0.01,0.02,0.03],['0.0000','0.0100','0.0200','0.0300'],'fig4-upper-inset'],
  [328,377,f4LiFreq,f4LiAmp,sc(1.2,2.4,2806,2908),sc(0,0.0003,377,337),[1.2,1.4,1.6,1.8,2.0,2.2,2.4],[0,0.0001,0.0002,0.0003],['0.0000','0.0001','0.0002','0.0003'],'fig4-lower-inset']].forEach(c=>{
  frame(2801,c[0],2921,c[1],c[9]+'-frame','#fbf9dc');
  const pl=mk('polyline',{points:pts(c[2],c[3],c[4],c[5]),fill:'none',stroke:'#111','stroke-width':1});
  
  
  xticks(c[4],c[6],c[6].map(v=>v.toFixed(1)),c[0],c[1],c[1]+10,8,c[9]+'-x');
  yticks(c[5],c[7],c[8],2801,2797,8,c[9]+'-y');});}

// ===== Fig 5 =====
{const sx=sc(0,0.15,3054,3315),sy=sc(0,1,279,104);
 frame(3045,92,3320,283,'fig5-frame');
 const hl=mk('rect',{x:3055,y:168,width:9,height:108,fill:'#f8f4cc',stroke:'#ccc'});
 
 
 const k2=mk('polyline',{points:pts(k2Am,k2Cdf,sx,sy),fill:'none',stroke:'#a52020','stroke-width':2.5});
 
 
 const lm=mk('polyline',{points:pts(lmcAm,lmcCdf,sx,sy),fill:'none',stroke:'#1a1ae0','stroke-width':2.5});
 
 
 yticks(sy,cdfTicks,cdfTicks.map(v=>v.toFixed(1)),3045,3041,10,'fig5-y');
 xticks(sx,amTicks,amTickLabels,92,283,294,10,'fig5-x');
 rotLabel(3015,187,'CDF',16,'fig5-y-axis-title');
 {const t=txt(3182,312,'Am [mag]',17,'middle',{'font-weight':'bold'});
 
 }
 [['K2','#a52020',127],['LMC','#1a1ae0',147]].forEach(l=>{const r=mk('rect',{x:3251,y:l[2]-4,width:16,height:7,fill:l[1]});
 
 
 const t=txt(3270,l[2]+5,l[0],13,'start');
 
 });
 const isx=sc(0,0.006,3204,3300),isy=sc(0,0.6,244,179);
 frame(3200,176,3303,249,'fig5-inset-frame','#fbf9dc');
 const ik=mk('polyline',{points:pts(k2InAm,k2InCdf,isx,isy),fill:'none',stroke:'#a52020','stroke-width':1.3});
 
 
 xticks(isx,[0,0.002,0.004,0.006],['0.000','0.002','0.004','0.006'],176,249,258,7,'fig5-inset-x');
 yticks(isy,[0,0.2,0.4,0.6],['0.0','0.2','0.4','0.6'],3200,3197,7,'fig5-inset-y');
 rotLabel(3176,212,'CDF',8,'fig5-inset-y-title');
 {const t=txt(3252,270,'Am [mag]',9,'middle',{'font-weight':'bold'});
 
 }}

// ===== Fig 6 =====
{const sx=sc(0,70,3063,3322);
 const syT=sc(-0.6,0.6,455,511);
 frame(3060,452,3330,513,'fig6-top-frame');
 const band=mk('rect',{x:sx(0.5),y:syT(-0.45),width:sx(70)-sx(0.5),height:syT(0.42)-syT(-0.45),fill:'#5a5aa0','fill-opacity':0.75});
 
 
 yticks(syT,f6TopTicks,f6TopTicks.map(v=>v.toFixed(1)),3060,3057,7,'fig6-top-y');
 const syM=sc(-0.510,-0.505,538,568);
 frame(3060,520,3330,582,'fig6-middle-frame');
 const tl=mk('line',{x1:sx(0),y1:syM(-0.5047),x2:sx(70),y2:syM(-0.5110),stroke:'#bbb','stroke-width':5});
 
 
 f6MidT.forEach((t,i)=>{const c=mk('circle',{cx:sx(t),cy:syM(f6MidM[i]),r:1.8,fill:'#2c2c88'});
 
 });
 yticks(syM,[-0.510,-0.505],['-0.510','-0.505'],3060,3057,7,'fig6-middle-y');
 const syL=sc(0,-0.01,617,638);
 frame(3060,587,3330,646,'fig6-bottom-frame');
 const tr=mk('polyline',{points:pts(f6TrendT,f6TrendM,sx,syL),fill:'none',stroke:'#bbb','stroke-width':5});
 
 
 f6LoT.forEach((t,i)=>{const c=mk('circle',{cx:sx(t),cy:syL(f6LoM[i]),r:1.8,fill:'#2c2c88'});
 
 });
 yticks(syL,[0.01,0,-0.01],['0.01','0.00','-0.01'],3060,3057,7,'fig6-bottom-y');
 xticks(sx,bjdTicks,null,587,646,656,8,'fig6-x');
 [['EPIC 206333750',464],['EPIC 206333750',532],['EPIC 205953592',597]].forEach(l=>{const r=mk('rect',{x:3093,y:l[1],width:92,height:13,fill:'#fff',stroke:'#ccc'});
 
 
 const t=txt(3096,l[1]+10.5,l[0],10.5,'start',{fill:'#4a86cc'});
 
 });
 rotLabel(3010,555,'MAGNITUDE',13,'fig6-y-axis-title');
 {const t=txt(3210,673,'BJD - BJD1',13,'middle',{'font-weight':'bold'});
 
 }}

// ===== Fig 7 =====
{const sx=sc(5,15,3590,3714),sy=sc(5,15,220,96);
 const g=mk('rect',{x:sx(6),y:91,width:3719-sx(6),height:sy(6)-91,fill:'#dff3df'});
 
 
 const rr=mk('rect',{x:sx(6),y:sy(6),width:sx(7)-sx(6),height:249-sy(6),fill:'#f8dede'});
 
 
 frame(3557,91,3719,251,'fig7-frame');
 f7Sp.forEach((s,i)=>{const c=mk('rect',{x:sx(s)-1,y:sy(f7An[i])-1,width:2,height:2,fill:'#000'});
 
 });
 const cloud=mk('polyline',{points:pts([4.8,15.2],[4.8,15.2],sx,sy),stroke:'#111','stroke-width':9,'stroke-opacity':0.6,fill:'none'});
 
 
 const ml=mk('polyline',{points:pts(f7LineSp,f7LineAn,sx,sy),stroke:'#e020e0','stroke-width':2.5,fill:'none'});
 
 
 f7MagSp.forEach((s,i)=>{const c=mk('circle',{cx:sx(s),cy:sy(f7MagAn[i]),r:2,fill:'#e020e0'});
 
 });
 xticks(sx,snrTicks,null,91,251,263,11,'fig7-x');
 yticks(sy,snrTicks,null,3557,3553,11,'fig7-y');
 {const t=txt(3638,284,'SNR',16,'middle',{'font-weight':'bold'});
 
 }
 rotLabel(3533,171,'α × SNRan',16,'fig7-y-axis-title');}

// ===== Fig 8 =====
{const sx=sc(0.4,0.8,3907,4130),sy=sc(-1,-4,125,268);
 frame(3893,92,4152,274,'fig8-frame');
 [[f8aUpP,f8aUpL,'#22dd22','fig8-bound-a-upper'],[f8bUpP,f8bUpL,'#e88080','fig8-bound-b-upper'],[f8aLoP,f8aLoL,'#22dd22','fig8-bound-a-lower'],[f8bLoP,f8bLoL,'#e88080','fig8-bound-b-lower']].forEach(b=>{
 const pl=mk('polyline',{points:pts(b[0],b[1],sx,sy),fill:'none',stroke:b[2],'stroke-width':5});
 
 });
 f8CloudP.forEach((p,i)=>{const c=mk('circle',{cx:sx(p),cy:sy(f8CloudL[i]),r:2.6,fill:'#a9bdd8'});
 
 });
 const ce=mk('ellipse',{cx:sx(0.6),cy:sy(-1.25),rx:sx(0.72)-sx(0.6),ry:sy(-1.5)-sy(-1.25),fill:'#a9bdd8','fill-opacity':0.8});
 
 
 f8P.forEach((p,i)=>{const c=mk('circle',{cx:sx(p),cy:sy(f8L[i]),r:2.6,fill:'#000'});
 
 });
 xticks(sx,f8PTicks,f8PTicks.map(v=>v.toFixed(1)),92,274,285,12,'fig8-x');
 yticks(sy,f8LTicks,null,3893,3889,12,'fig8-y');
 [['a','#22dd22',110],['b','#e88080',122]].forEach(l=>{const r=mk('rect',{x:4093,y:l[2]-5,width:11,height:7,fill:l[1]});
 
 
 const t=txt(4106,l[2]+3,': '+l[0],13,'start',{'font-weight':'bold'});
 
 });
 rotLabel(3862,183,'log10 (Am)',16,'fig8-y-axis-title');
 {const t=txt(4022,310,'P [days]',17,'middle',{'font-weight':'bold'});
 
 }}
</script>
</body></html>
